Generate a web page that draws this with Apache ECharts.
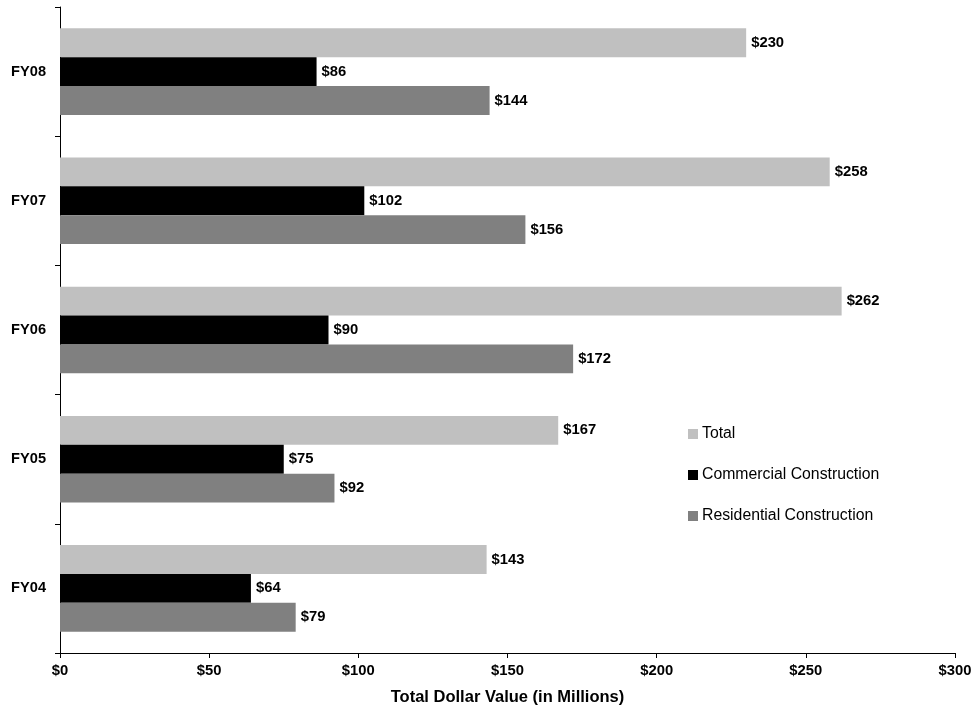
<!DOCTYPE html>
<html>
<head>
<meta charset="utf-8">
<script src="https://cdn.jsdelivr.net/npm/echarts@6/dist/echarts.min.js"></script>
<style>html,body{margin:0;padding:0;background:#fff}#c{width:977px;height:711px}</style>
</head>
<body>
<div id="c"></div>
<script>
const categories = ['FY04', 'FY05', 'FY06', 'FY07', 'FY08'];
const totalValues = [143, 167, 262, 258, 230];
const commercialValues = [64, 75, 90, 102, 86];
const residentialValues = [79, 92, 172, 156, 144];
const xTicks = [0, 50, 100, 150, 200, 250, 300];
const seriesNames = ['Total', 'Commercial Construction', 'Residential Construction'];

const FONT = '"Liberation Sans", Arial, sans-serif';
const chart = echarts.init(document.getElementById('c'), null, {renderer: 'canvas'});
const label = {
  show: true, position: 'right', distance: 5,
  formatter: p => '$' + p.value,
  fontFamily: FONT, fontSize: 14.8, fontWeight: 'bold', color: '#000'
};
chart.setOption({
  animation: false,
  backgroundColor: '#fff',
  grid: {left: 60, right: 22, top: 7, bottom: 58, containLabel: false, outerBoundsMode: 'none'},
  legend: {
    orient: 'vertical', left: 683, top: 421,
    data: seriesNames,
    icon: 'rect', itemWidth: 10, itemHeight: 10, itemGap: 25,
    textStyle: {fontFamily: FONT, fontSize: 15.8, color: '#000', padding: [0, 0, 0, -1]}
  },
  xAxis: {
    type: 'value', min: xTicks[0], max: xTicks[xTicks.length - 1], interval: 50,
    name: 'Total Dollar Value (in Millions)', nameLocation: 'middle', nameGap: 36,
    nameTextStyle: {fontFamily: FONT, fontSize: 16.5, fontWeight: 'bold', color: '#000'},
    axisLine: {show: true, lineStyle: {color: '#000', width: 1}},
    axisTick: {show: true, length: 5, lineStyle: {color: '#000'}},
    axisLabel: {formatter: v => '$' + v, fontFamily: FONT, fontSize: 14.8, fontWeight: 'bold', color: '#000', margin: 10},
    splitLine: {show: false}
  },
  yAxis: {
    type: 'category', data: categories,
    axisLine: {show: true, lineStyle: {color: '#000', width: 1}},
    axisTick: {show: true, length: 5, lineStyle: {color: '#000'}},
    axisLabel: {fontFamily: FONT, fontSize: 14.6, fontWeight: 'bold', color: '#000', margin: 14},
    splitLine: {show: false}
  },
  series: [
    {name: seriesNames[0], type: 'bar', data: totalValues, itemStyle: {color: '#C0C0C0'}, label, barGap: '0%', barCategoryGap: '33%'},
    {name: seriesNames[1], type: 'bar', data: commercialValues, itemStyle: {color: '#000000'}, label, barGap: '0%', barCategoryGap: '33%'},
    {name: seriesNames[2], type: 'bar', data: residentialValues, itemStyle: {color: '#808080'}, label, barGap: '0%', barCategoryGap: '33%'}
  ]
});
</script>
</body>
</html>
